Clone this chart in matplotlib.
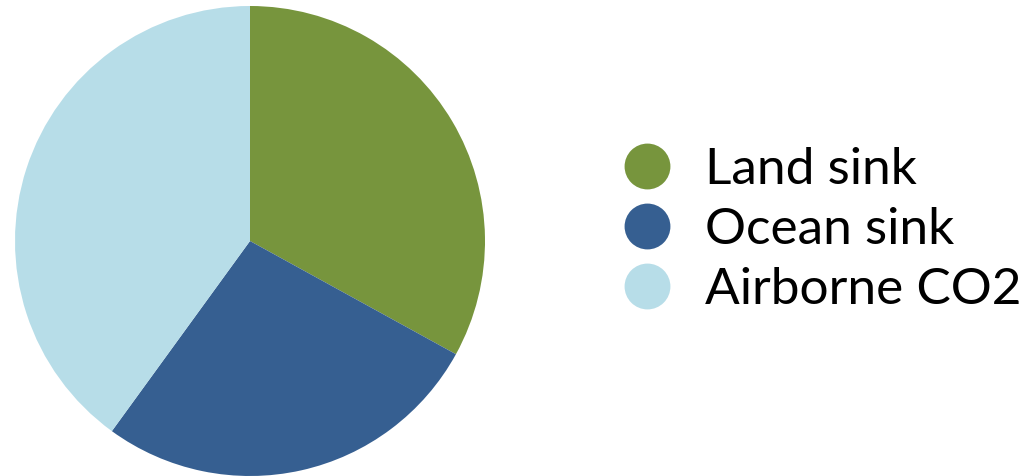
import matplotlib.pyplot as plt
from matplotlib.lines import Line2D

plt.rcParams['font.family'] = ['Lato', 'DejaVu Sans']

# Share of emitted CO2 ending up in each reservoir (%)
labels = ['Land sink', 'Ocean sink', 'Airborne CO2']
shares = [33, 27, 40]
colors = ['#77953d', '#365f91', '#b7dde8']

fig = plt.figure(figsize=(10.32, 4.76), dpi=100)
ax = fig.add_axes([15 / 1032, 0, 470 / 1032, 470 / 476])
ax.pie(shares, colors=colors, startangle=90, counterclock=False, radius=1,
       wedgeprops=dict(linewidth=0))
ax.set_xlim(-1, 1)
ax.set_ylim(-1, 1)
ax.set_aspect('equal')
ax.axis('off')

handles = [Line2D([], [], marker='o', linestyle='none', markersize=33,
                  markerfacecolor=c, markeredgewidth=0) for c in colors]
fig.legend(handles, labels, loc='center left', bbox_to_anchor=(591 / 1032, 1 - 230 / 476),
           frameon=False, prop=dict(size=37), handletextpad=0.55,
           labelspacing=0.27, handlelength=1.17, borderpad=0)

fig.savefig('out.png', dpi=100)
